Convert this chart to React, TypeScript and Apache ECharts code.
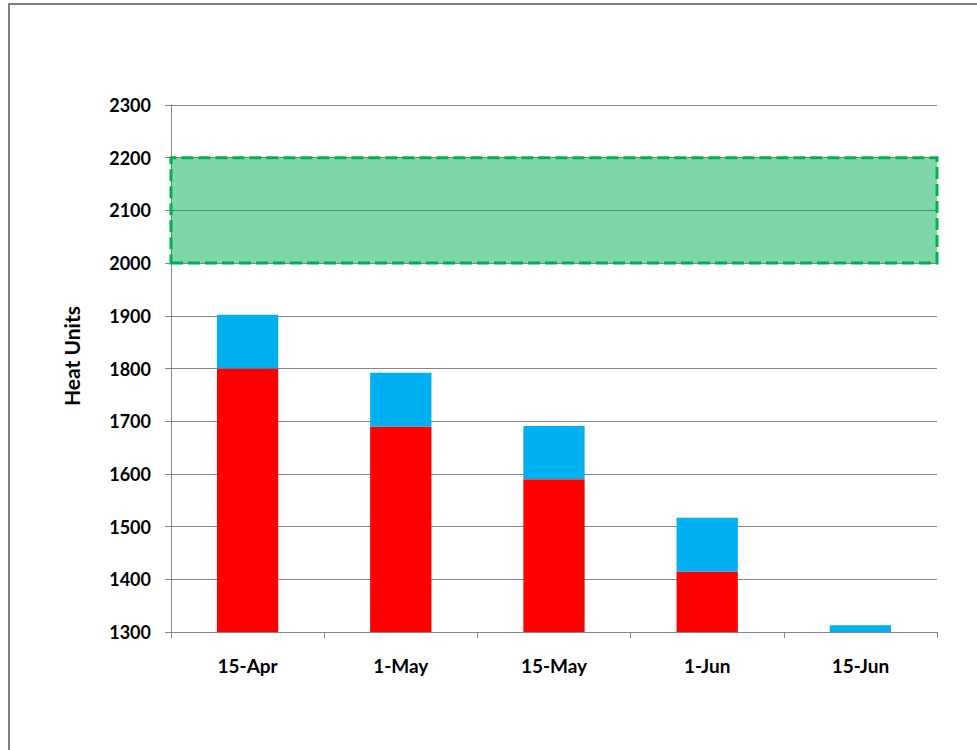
import React, { useEffect, useRef } from "react";
import * as echarts from "echarts";

const categories = ["15-Apr", "1-May", "15-May", "1-Jun", "15-Jun"];
const baseValues = [1800, 1690, 1590, 1415, 1300];
const extraValues = [102, 102, 101, 102, 13];
const yAxisTitle = "Heat Units";
const targetBand = [2000, 2200];

export default function App() {
  const ref = useRef<HTMLDivElement>(null);
  useEffect(() => {
    document.body.style.margin = "0";
    const chart = echarts.init(ref.current!, null, { renderer: "svg" });
    const font = "Lato, 'Open Sans', sans-serif";
    chart.setOption({
      animation: false,
      backgroundColor: "#ffffff",
      grid: { left: 171, right: 40, top: 105, bottom: 118 },
      graphic: [
        {
          type: "rect",
          shape: { x: 9, y: 4, width: 1100, height: 900 },
          style: { fill: "none", stroke: "#808080", lineWidth: 2 },
          silent: true,
        },
        {
          type: "text",
          x: 71,
          y: 356,
          rotation: Math.PI / 2,
          style: {
            text: yAxisTitle,
            fontFamily: font,
            fontWeight: "bold",
            fontSize: 21,
            fill: "#000",
            align: "center",
            verticalAlign: "middle",
          },
        },
      ],
      xAxis: {
        type: "category",
        data: categories,
        axisLine: { lineStyle: { color: "#868686", width: 1 } },
        axisTick: { show: true, length: 6, lineStyle: { color: "#868686" } },
        axisLabel: {
          color: "#000",
          fontFamily: font,
          fontWeight: "bold",
          fontSize: 19,
          margin: 24,
        },
      },
      yAxis: {
        type: "value",
        min: 1300,
        max: 2300,
        interval: 100,
        axisLine: { show: true, lineStyle: { color: "#868686", width: 1 } },
        axisTick: { show: true, length: 6, lineStyle: { color: "#868686" } },
        splitLine: { lineStyle: { color: "#868686", width: 1 } },
        axisLabel: {
          color: "#000",
          fontFamily: font,
          fontWeight: "bold",
          fontSize: 18,
          margin: 20,
          formatter: (v: number) => String(v),
        },
      },
      series: [
        {
          type: "bar",
          stack: "total",
          data: baseValues,
          barWidth: "40%",
          itemStyle: { color: "#FF0000" },
        },
        {
          type: "bar",
          stack: "total",
          data: extraValues,
          barWidth: "40%",
          itemStyle: { color: "#00B0F0" },
          markArea: {
            silent: true,
            itemStyle: {
              color: "rgba(0,176,80,0.5)",
              borderColor: "#00B050",
              borderWidth: 3,
              borderType: [12, 5],
            },
            data: [[{ yAxis: targetBand[0] }, { yAxis: targetBand[1] }]],
          },
        },
      ],
    });
    return () => chart.dispose();
  }, []);
  return (
    <div
      ref={ref}
      style={{ position: "fixed", left: 0, top: 0, width: 977, height: 750 }}
    />
  );
}
